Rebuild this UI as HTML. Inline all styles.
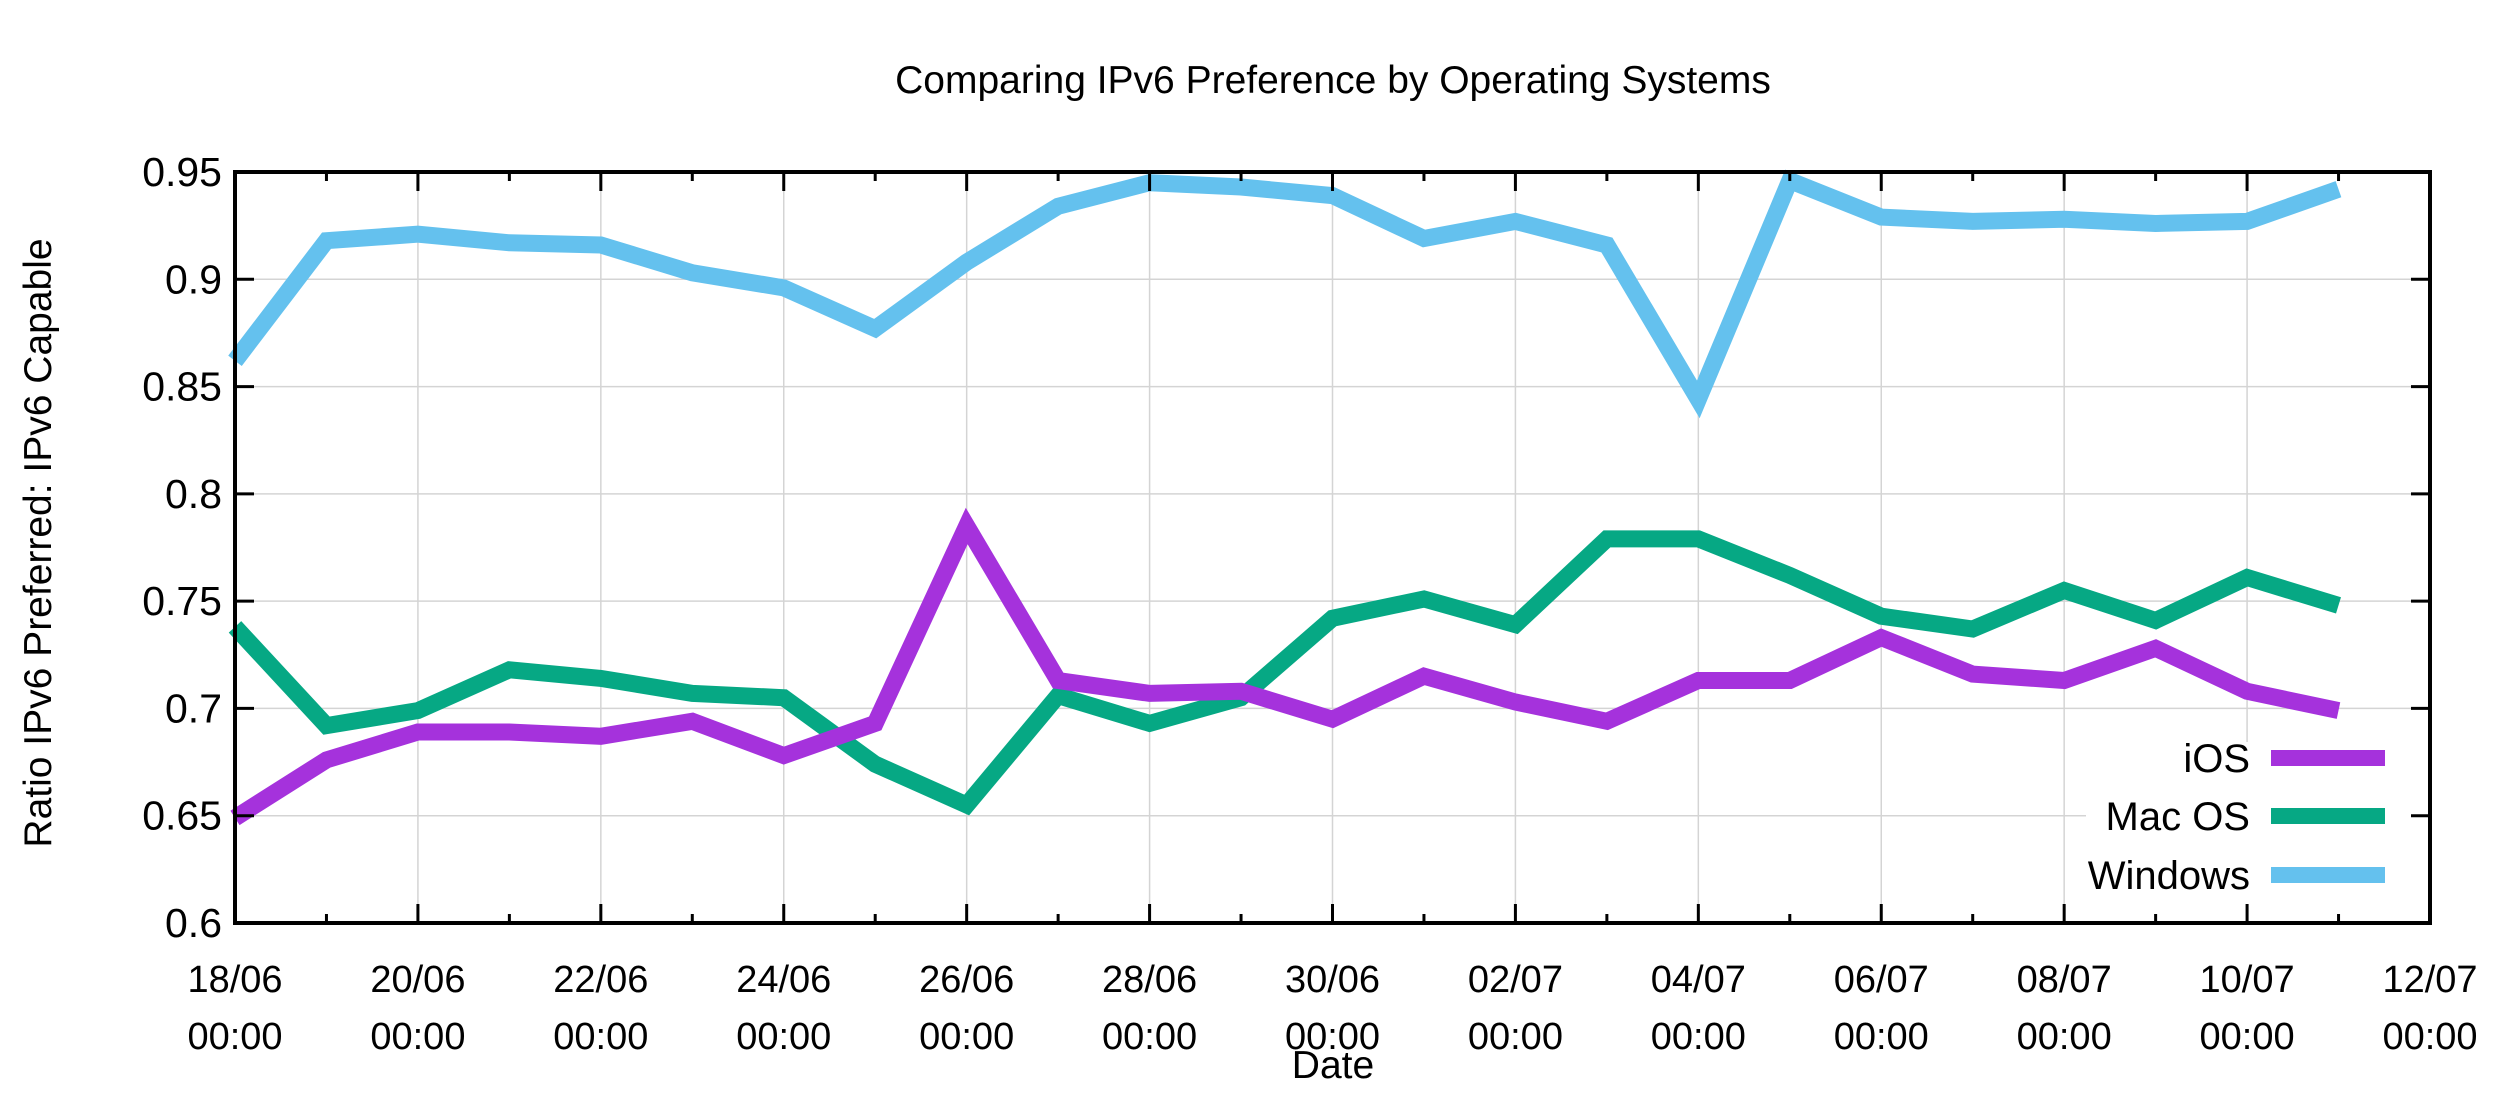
<!DOCTYPE html>
<html><head><meta charset="utf-8">
<style>
html,body{margin:0;padding:0;background:#fff;}
svg{display:block;font-family:"Liberation Sans",Arial,sans-serif;}
</style></head>
<body>
<svg id="c" xmlns="http://www.w3.org/2000/svg" width="2500" height="1112" viewBox="0 0 2500 1112">
<rect width="2500" height="1112" fill="#fff"/>
<g id="grid"></g>
<rect x="2086" y="742" width="334" height="176" fill="#fff"/>
<g id="series"></g>
<g id="axes"></g>
<text x="1333" y="93" font-size="39" text-anchor="middle">Comparing IPv6 Preference by Operating Systems</text>
<text x="1333" y="1078" font-size="39" text-anchor="middle">Date</text>
<text transform="translate(51,543) rotate(-90)" font-size="39" text-anchor="middle">Ratio IPv6 Preferred: IPv6 Capable</text>
<g font-size="40" text-anchor="end">
<text x="2250" y="772">iOS</text>
<text x="2250" y="830">Mac OS</text>
<text x="2250" y="889">Windows</text>
</g>
<rect x="2271" y="750" width="114" height="16" fill="#a532dc"/>
<rect x="2271" y="808" width="114" height="16" fill="#06a884"/>
<rect x="2271" y="867" width="114" height="16" fill="#64c1ee"/>
</svg>
<script>
var L=235,R=2430,T=172,B=923;
function X(d){return L+(R-L)*d/24;}
function Y(v){return B-(B-T)*(v-0.6)/0.35;}
var ns="http://www.w3.org/2000/svg";
function el(p,n,a,t){var e=document.createElementNS(ns,n);for(var k in a)e.setAttribute(k,a[k]);if(t!==undefined)e.textContent=t;p.appendChild(e);return e;}
var g=document.getElementById('grid'),ax=document.getElementById('axes'),s=document.getElementById('series');
for(var i=1;i<7;i++){var y=Y(0.6+i*0.05);el(g,'line',{x1:L,x2:R,y1:y,y2:y,stroke:'#d4d4d4','stroke-width':1.5});}
for(var d=2;d<24;d+=2){var x=X(d);el(g,'line',{x1:x,x2:x,y1:T,y2:B,stroke:'#d4d4d4','stroke-width':1.5});}
var data={
w:[0.862,0.918,0.921,0.917,0.916,0.903,0.896,0.877,0.908,0.934,0.945,0.943,0.939,0.919,0.927,0.916,0.844,0.946,0.929,0.927,0.928,0.926,0.927,0.942],
m:[0.738,0.692,0.699,0.718,0.714,0.707,0.705,0.674,0.655,0.706,0.693,0.705,0.742,0.751,0.739,0.779,0.779,0.762,0.743,0.737,0.755,0.741,0.761,0.748],
i:[0.649,0.676,0.689,0.689,0.687,0.694,0.678,0.693,0.785,0.713,0.707,0.708,0.695,0.715,0.703,0.694,0.713,0.713,0.733,0.716,0.713,0.728,0.708,0.699]};
var cols={w:'#64c1ee',m:'#06a884',i:'#a532dc'};
['w','m','i'].forEach(function(k){var p=data[k].map(function(v,j){return X(j).toFixed(1)+','+Y(v).toFixed(1);}).join(' ');
el(s,'polyline',{points:p,fill:'none',stroke:cols[k],'stroke-width':17,'stroke-linejoin':'miter'});});
el(ax,'rect',{x:L,y:T,width:R-L,height:B-T,fill:'none',stroke:'#000','stroke-width':4});
for(var d=0;d<=24;d++){var x=X(d),len=(d%2==0)?19:9;
el(ax,'line',{x1:x,x2:x,y1:B,y2:B-len,stroke:'#000','stroke-width':3});
el(ax,'line',{x1:x,x2:x,y1:T,y2:T+len,stroke:'#000','stroke-width':3});}
var labs=['18/06','20/06','22/06','24/06','26/06','28/06','30/06','02/07','04/07','06/07','08/07','10/07','12/07'];
labs.forEach(function(t,j){var x=X(j*2);el(ax,'text',{x:x,y:992,'font-size':38,'text-anchor':'middle'},t);el(ax,'text',{x:x,y:1049,'font-size':38,'text-anchor':'middle'},'00:00');});
var yl=['0.6','0.65','0.7','0.75','0.8','0.85','0.9','0.95'];
yl.forEach(function(t,j){var y=Y(0.6+j*0.05);
el(ax,'line',{x1:L,x2:L+19,y1:y,y2:y,stroke:'#000','stroke-width':3});
el(ax,'line',{x1:R,x2:R-19,y1:y,y2:y,stroke:'#000','stroke-width':3});
el(ax,'text',{x:222,y:y+14,'font-size':41,'text-anchor':'end'},t);});
</script>
</body></html>
